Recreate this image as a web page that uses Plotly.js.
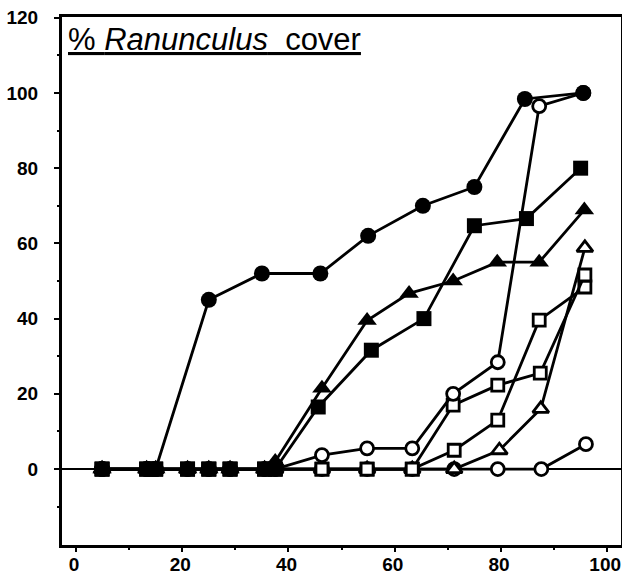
<!DOCTYPE html>
<html>
<head>
<meta charset="utf-8">
<script src="https://cdn.plot.ly/plotly-3.0.1.min.js"></script>
<style>
  html, body { margin: 0; padding: 0; background: #fff; }
  #chart { width: 622px; height: 577px; }
</style>
</head>
<body>
<div id="chart"></div>
<script>
// Percent Ranunculus cover over time, one series per treatment.
const early = [4.9, 13.3, 15, 21, 25, 29, 35.5, 37.5];
const earlyZero = [0, 0, 0, 0, 0, 0, 0, 0];

// Filled circles
const xFilledCircle = [4.9, 13.3, 15, 25, 35, 46, 55, 65.3, 75, 84.5, 95.5];
const yFilledCircle = [0, 0, 0, 45, 52, 52, 62, 70, 75, 98.4, 100];

// Filled squares
const xFilledSquare = early.concat([45.6, 55.6, 65.5, 75, 84.8, 95]);
const yFilledSquare = earlyZero.concat([16.5, 31.6, 40, 64.7, 66.6, 80]);

// Filled triangles
const xFilledTriangle = [4.9, 13.3, 15, 21, 25, 29, 35.5, 37.5, 46.3, 54.8, 62.7, 71, 79.3, 87.2, 95.7];
const yFilledTriangle = [0, 0, 0, 0, 0, 0, 0, 2, 21.5, 39.5, 46.7, 50, 55, 55, 68.9];

// Open circles, late rise
const xOpenCircleA = early.concat([46.3, 54.8, 63.3, 71, 79.4, 87.2, 95.5]);
const yOpenCircleA = earlyZero.concat([3.7, 5.5, 5.5, 20, 28.4, 96.5, 100]);

// Open circles, almost none
const xOpenCircleB = early.concat([46.3, 54.8, 63.3, 71.2, 79.4, 87.6, 96]);
const yOpenCircleB = earlyZero.concat([0, 0, 0, 0, 0, 0, 6.6]);

// Open squares
const xOpenSquareA = early.concat([46.3, 54.8, 63.3, 71, 79.4, 87.4, 95.8]);
const yOpenSquareA = earlyZero.concat([0, 0, 0, 17, 22.3, 25.5, 51.6]);

const xOpenSquareB = early.concat([46.3, 54.8, 63.3, 71.2, 79.4, 87.2, 95.8]);
const yOpenSquareB = earlyZero.concat([0, 0, 0, 5, 13, 39.6, 48.4]);

// Open triangles
const xOpenTriangle = early.concat([46.3, 54.8, 63.3, 71.2, 79.7, 87.5, 95.8]);
const yOpenTriangle = earlyZero.concat([0, 0, 0, 0, 5, 16, 58.8]);

const xTicks = [0, 20, 40, 60, 80, 100];
const yTicks = [0, 20, 40, 60, 80, 100, 120];

const LINE_W = 2.8;

function openSeries(x, y, symbol, size) {
  return {
    x: x, y: y, type: 'scatter', mode: 'lines+markers',
    line: { color: '#000', width: LINE_W },
    marker: { symbol: symbol, size: size, color: '#fff', line: { color: '#000', width: 2.8 } },
    hoverinfo: 'x+y'
  };
}
function filledSeries(x, y, symbol, size) {
  return {
    x: x, y: y, type: 'scatter', mode: 'lines+markers',
    line: { color: '#000', width: LINE_W },
    marker: { symbol: symbol, size: size, color: '#000', line: { color: '#000', width: 0 } },
    hoverinfo: 'x+y'
  };
}

const traces = [
  openSeries(xOpenCircleB, yOpenCircleB, 'circle', 13),
  openSeries(xOpenTriangle, yOpenTriangle, 'triangle-up', 14),
  openSeries(xOpenSquareB, yOpenSquareB, 'square', 12),
  openSeries(xOpenSquareA, yOpenSquareA, 'square', 12),
  openSeries(xOpenCircleA, yOpenCircleA, 'circle', 13),
  filledSeries(xFilledCircle, yFilledCircle, 'circle', 16),
  filledSeries(xFilledTriangle, yFilledTriangle, 'triangle-up', 17),
  filledSeries(xFilledSquare, yFilledSquare, 'square', 15)
];

const tickFont = { family: 'Liberation Sans, Arial, sans-serif', size: 19, color: '#000', weight: 'bold' };

const layout = {
  width: 622, height: 577,
  margin: { l: 62, r: 1, t: 17, b: 32, pad: 0 },
  paper_bgcolor: '#fff', plot_bgcolor: '#fff',
  showlegend: false,
  xaxis: {
    range: [-2.64, 102.6], tickvals: xTicks, ticktext: xTicks.map(String),
    ticks: 'outside', ticklen: 4, tickwidth: 2, tickcolor: '#000',
    minor: { tickvals: [10, 30, 50, 70, 90], ticks: 'outside', ticklen: 2, tickwidth: 2, tickcolor: '#000' },
    showline: true, linewidth: 3, linecolor: '#000', mirror: true,
    showgrid: false, zeroline: false, tickfont: tickFont, ticklabelstandoff: -4,
    ticklabelshift: -2, ticklabeloverflow: 'allow'
  },
  yaxis: {
    range: [-20.2, 120.2], tickvals: yTicks, ticktext: yTicks.map(String),
    ticks: 'outside', ticklen: 5, tickwidth: 2, tickcolor: '#000',
    minor: { tickvals: [-10, 10, 30, 50, 70, 90, 110], ticks: 'outside', ticklen: 2, tickwidth: 2, tickcolor: '#000' },
    showline: true, linewidth: 3, linecolor: '#000', mirror: true,
    showgrid: false, zeroline: true, zerolinecolor: '#000', zerolinewidth: 1.6,
    tickfont: tickFont, ticklabelstandoff: 12, ticklabeloverflow: 'allow'
  },
  annotations: [{
    xref: 'paper', yref: 'paper', x: 0, y: 1, xanchor: 'left', yanchor: 'top',
    xshift: 4, yshift: -3, showarrow: false,
    text: '<span style="text-decoration:underline">% <i>Ranunculus</i>&nbsp;&nbsp;cover</span>',
    font: { family: 'Liberation Sans, Arial, sans-serif', size: 31, color: '#000' }
  }]
};

Plotly.newPlot('chart', traces, layout, { displayModeBar: false, staticPlot: true });
</script>
</body>
</html>
